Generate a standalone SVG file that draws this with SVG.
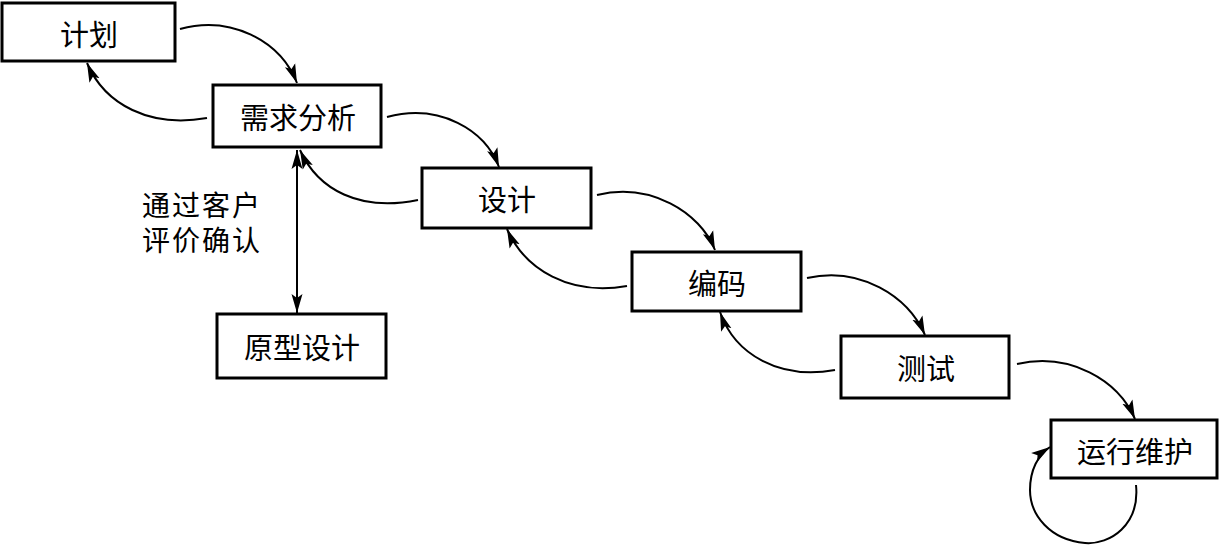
<svg xmlns="http://www.w3.org/2000/svg" width="1220" height="545" viewBox="0 0 1220 545">
<style>
.box{fill:#fff;stroke:#000;stroke-width:3}
.t{font-family:"Noto Sans CJK SC","Noto Sans CJK JP",sans-serif;font-size:29px;fill:#000;text-anchor:middle;dominant-baseline:central}
.lbl{font-family:"Noto Sans CJK SC","Noto Sans CJK JP",sans-serif;font-size:28px;fill:#000;letter-spacing:2px}
.c{fill:none;stroke:#000;stroke-width:2}
</style>
<defs>
<marker id="ah" markerUnits="userSpaceOnUse" markerWidth="20" markerHeight="12" refX="19" refY="6" orient="auto" viewBox="0 0 20 12">
<path d="M0,0.5 L19,6 L0,11.5 L4,6 z" fill="#000"/>
</marker>
<marker id="ahs" markerUnits="userSpaceOnUse" markerWidth="20" markerHeight="12" refX="19" refY="6" orient="auto-start-reverse" viewBox="0 0 20 12">
<path d="M0,0.5 L19,6 L0,11.5 L4,6 z" fill="#000"/>
</marker>
</defs>
<rect width="1220" height="545" fill="#fff"/>
<g id="connectors">
<path class="c" d="M180,29 C230,15 280,40 297,83" marker-end="url(#ah)"/>
<path class="c" d="M207,118 C150,128 105,105 87,63" marker-end="url(#ah)"/>
<path class="c" d="M387,117 C440,103 485,130 499,167" marker-end="url(#ah)"/>
<path class="c" d="M418,200 C360,212 318,190 300,150" marker-end="url(#ah)"/>
<path class="c" d="M597,195 C650,182 700,212 715,250" marker-end="url(#ah)"/>
<path class="c" d="M627,286 C570,296 525,270 507,229" marker-end="url(#ah)"/>
<path class="c" d="M807,278 C860,266 908,296 925,335" marker-end="url(#ah)"/>
<path class="c" d="M835,370 C780,380 735,355 720,312" marker-end="url(#ah)"/>
<path class="c" d="M1017,364 C1070,352 1118,380 1135,419" marker-end="url(#ah)"/>
<path class="c" d="M1136,485 C1140,525 1110,545 1085,543 C1050,540 1030,515 1030,490 C1030,470 1038,455 1050,447" marker-end="url(#ah)"/>
<path class="c" d="M297,150 L297,313" marker-start="url(#ahs)" marker-end="url(#ah)"/>
</g>
<g id="n-plan"><rect class="box" x="2" y="3" width="173" height="58"/><text class="t" x="89" y="33">计划</text></g>
<g id="n-req"><rect class="box" x="213" y="85" width="168" height="62"/><text class="t" x="298" y="116">需求分析</text></g>
<g id="n-design"><rect class="box" x="422" y="168" width="169" height="60"/><text class="t" x="507" y="198">设计</text></g>
<g id="n-code"><rect class="box" x="632" y="252" width="169" height="59"/><text class="t" x="717" y="282">编码</text></g>
<g id="n-test"><rect class="box" x="841" y="336" width="168" height="62"/><text class="t" x="926" y="367">测试</text></g>
<g id="n-ops"><rect class="box" x="1051" y="420" width="166" height="58"/><text class="t" x="1135" y="450">运行维护</text></g>
<g id="n-proto"><rect class="box" x="217" y="314" width="169" height="64"/><text class="t" x="302" y="346">原型设计</text></g>
<g id="label"><text class="lbl" x="142" y="216">通过客户</text><text class="lbl" x="142" y="251">评价确认</text></g>
</svg>
